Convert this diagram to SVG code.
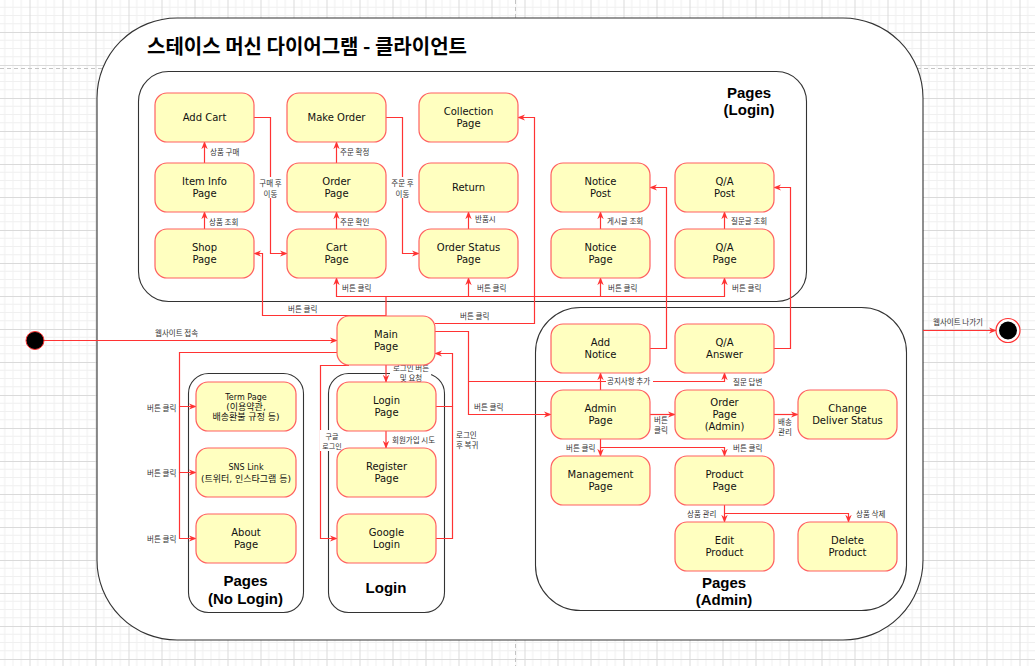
<svg xmlns="http://www.w3.org/2000/svg" width="1035" height="666" viewBox="0 0 1035 666">
<style>
.node rect{fill:#ffffc0;stroke:#ff6161;stroke-width:1.2}
.node text{font-family:"DejaVu Sans","Noto Sans CJK KR",sans-serif;font-size:10px;fill:#111;text-anchor:middle}
.node text.sm{font-size:8px}
.node text.kr{font-size:9px}
.cont{fill:none;stroke:#333;stroke-width:1.1}
.clbl{font-family:"Liberation Sans",Arial,sans-serif;font-weight:bold;font-size:15px;fill:#000;text-anchor:middle}
.edges path{fill:none;stroke:#ff3333;stroke-width:1.2}
.lbl{font-family:"Noto Sans CJK KR",sans-serif;font-size:7.5px;fill:#333}
.lbl.s7{font-size:7px}
.mid{text-anchor:middle}
.bg{fill:#fff}
</style>
<defs>
<pattern id="grid" patternUnits="userSpaceOnUse" x="29.5" y="32" width="33" height="33">
<rect width="33" height="33" fill="#fff"/>
<path d="M8.25,0V33M16.5,0V33M24.75,0V33M0,8.25H33M0,16.5H33M0,24.75H33" stroke="#f0f0f0" stroke-width="1"/>
<path d="M0.5,0V33M0,0.5H33" stroke="#dadada" stroke-width="1"/>
</pattern>
<marker id="arr" viewBox="0 0 10 10" refX="9" refY="5" markerWidth="8" markerHeight="8" markerUnits="userSpaceOnUse" orient="auto">
<path d="M0,1 L10,5 L0,9 L3,5 z" fill="#ff3333"/>
</marker>
</defs>
<rect width="1035" height="666" fill="url(#grid)"/>
<path d="M0,68.5H1035M515.5,0V666" stroke="#c4c4c4" stroke-width="1" stroke-dasharray="4,3"/>

<g id="containers">
<rect x="97" y="18" width="826" height="622" rx="80" fill="#fff" stroke="#333" stroke-width="1.1"/>
<text x="147" y="54" font-family="'Noto Sans CJK KR',sans-serif" font-weight="bold" font-size="20" fill="#000">스테이스 머신 다이어그램 - 클라이언트</text>
<rect class="cont" x="138.5" y="71.5" width="668" height="230" rx="30"/>
<text class="clbl" x="749" y="97.5">Pages</text>
<text class="clbl" x="749" y="114.5">(Login)</text>
<rect class="cont" x="188.5" y="373.5" width="115" height="239" rx="20"/>
<text class="clbl" x="245.5" y="586">Pages</text>
<text class="clbl" x="245.5" y="604">(No Login)</text>
<rect class="cont" x="328.5" y="373.5" width="116" height="239" rx="20"/>
<text class="clbl" x="386" y="593">Login</text>
<rect class="cont" x="535.5" y="307.5" width="371" height="303" rx="45"/>
<text class="clbl" x="724" y="588">Pages</text>
<text class="clbl" x="724" y="605">(Admin)</text>
</g>

<g id="edges" class="edges">
<path d="M204.5,229V212" marker-end="url(#arr)"/>
<path d="M204.5,163V142" marker-end="url(#arr)"/>
<path d="M254,117.5H270.5V253.5H287" marker-end="url(#arr)"/>
<path d="M336.5,229V212" marker-end="url(#arr)"/>
<path d="M336.5,163V142" marker-end="url(#arr)"/>
<path d="M386,117.5H402.5V253.5H419" marker-end="url(#arr)"/>
<path d="M468.5,229V212" marker-end="url(#arr)"/>
<path d="M600.5,229V212" marker-end="url(#arr)"/>
<path d="M724.5,229V212" marker-end="url(#arr)"/>
<path d="M386,316V296.5H336.5V278" marker-end="url(#arr)"/>
<path d="M386,296.5H468.5V278" marker-end="url(#arr)"/>
<path d="M468.5,296.5H600.5V278" marker-end="url(#arr)"/>
<path d="M600.5,296.5H724.5V278" marker-end="url(#arr)"/>
<path d="M386,315.5H262.5V253.5H254" marker-end="url(#arr)"/>
<path d="M435,323.5H534.5V117.5H518" marker-end="url(#arr)"/>
<path d="M650,348.5H666.5V187.5H650" marker-end="url(#arr)"/>
<path d="M774,348.5H790.5V187.5H774" marker-end="url(#arr)"/>
<path d="M435,331.5H468.5V414.5H551" marker-end="url(#arr)"/>
<path d="M600.5,390V373" marker-end="url(#arr)"/>
<path d="M468.5,381.5H724.5V373" marker-end="url(#arr)"/>
<path d="M650,414.5H675" marker-end="url(#arr)"/>
<path d="M774,414.5H798" marker-end="url(#arr)"/>
<path d="M600.5,439V456" marker-end="url(#arr)"/>
<path d="M600.5,447.5H724.5V456" marker-end="url(#arr)"/>
<path d="M724.5,505V522" marker-end="url(#arr)"/>
<path d="M724.5,513.5H848.5V522" marker-end="url(#arr)"/>
<path d="M386,365V382" marker-end="url(#arr)"/>
<path d="M386,431V448" marker-end="url(#arr)"/>
<path d="M349,365.5H320.5V538.5H337" marker-end="url(#arr)"/>
<path d="M436,406.5H452.5V353.5H435" marker-end="url(#arr)"/>
<path d="M436,538.5H452.5V406.5"/>
<path d="M337,352.5H179.5V406.5H196" marker-end="url(#arr)"/>
<path d="M179.5,406.5V472.5H196" marker-end="url(#arr)"/>
<path d="M179.5,472.5V538.5H196" marker-end="url(#arr)"/>
<path d="M44,340.5H337" marker-end="url(#arr)"/>
<path d="M923,330.5H996" marker-end="url(#arr)"/>
</g>

<g id="edge-labels">
<text class="lbl" x="210" y="155">상품 구매</text>
<text class="lbl" x="209" y="225">상품 조회</text>
<rect class="bg" x="257" y="177" width="27" height="21"/>
<text class="lbl mid" x="270.5" y="186">구매 후</text>
<text class="lbl mid" x="270.5" y="197">이동</text>
<text class="lbl" x="340" y="155">주문 확정</text>
<text class="lbl" x="340" y="225">주문 확인</text>
<rect class="bg" x="389" y="177" width="27" height="21"/>
<text class="lbl mid" x="402.5" y="186">주문 후</text>
<text class="lbl mid" x="402.5" y="197">이동</text>
<text class="lbl" x="475" y="222">반품시</text>
<text class="lbl" x="607" y="224">게시글 조회</text>
<text class="lbl" x="731" y="224">질문글 조회</text>
<text class="lbl" x="342" y="291">버튼 클릭</text>
<text class="lbl" x="477" y="291">버튼 클릭</text>
<text class="lbl" x="608" y="291">버튼 클릭</text>
<text class="lbl" x="732" y="291">버튼 클릭</text>
<text class="lbl" x="288" y="312">버튼 클릭</text>
<text class="lbl" x="460" y="319">버튼 클릭</text>
<text class="lbl" x="155" y="336">웹사이트 접속</text>
<text class="lbl" x="933" y="325">웹사이트 나가기</text>
<text class="lbl" x="474" y="409.5">버튼 클릭</text>
<rect class="bg" x="606" y="377" width="47" height="9"/>
<text class="lbl" x="607" y="384">공지사항 추가</text>
<text class="lbl" x="733" y="385">질문 답변</text>
<text class="lbl mid" x="661" y="423">버튼</text>
<text class="lbl mid" x="661" y="433">클릭</text>
<text class="lbl mid" x="785" y="424.5">배송</text>
<text class="lbl mid" x="785" y="434.5">관리</text>
<text class="lbl" x="566" y="450.5">버튼 클릭</text>
<text class="lbl" x="733" y="450.5">버튼 클릭</text>
<text class="lbl" x="687" y="517">상품 관리</text>
<text class="lbl" x="856" y="517">상품 삭제</text>
<rect class="bg" x="390" y="364" width="41" height="18"/>
<text class="lbl mid" x="411" y="371">로그인 버튼</text>
<text class="lbl mid" x="411" y="381">및 요청</text>
<text class="lbl" x="392" y="443">회원가입 시도</text>
<rect class="bg" x="320" y="430" width="24" height="21"/>
<text class="lbl s7 mid" x="332" y="439">구글</text>
<text class="lbl s7 mid" x="332" y="449">로그인</text>
<text class="lbl" x="456" y="438">로그인</text>
<text class="lbl" x="456" y="447.5">후 복귀</text>
<text class="lbl" x="147" y="411">버튼 클릭</text>
<text class="lbl" x="147" y="476">버튼 클릭</text>
<text class="lbl" x="147" y="542">버튼 클릭</text>
</g>

<g id="start"><circle cx="35" cy="340.5" r="9" fill="#000" stroke="#ff3333" stroke-width="1"/></g>
<g id="end"><circle cx="1008" cy="330.5" r="12" fill="#fff" stroke="#ff3333" stroke-width="1.2"/><circle cx="1008" cy="330.5" r="9" fill="#000"/></g>

<g id="n-addcart" class="node"><rect x="155" y="93" width="99" height="49" rx="12"/><text x="204.5" y="121">Add Cart</text></g>
<g id="n-makeorder" class="node"><rect x="287" y="93" width="99" height="49" rx="12"/><text x="336.5" y="121">Make Order</text></g>
<g id="n-collection" class="node"><rect x="419" y="93" width="99" height="49" rx="12"/><text x="468.5" y="115">Collection</text><text x="468.5" y="127">Page</text></g>
<g id="n-iteminfo" class="node"><rect x="155" y="163" width="99" height="49" rx="12"/><text x="204.5" y="185">Item Info</text><text x="204.5" y="197">Page</text></g>
<g id="n-order" class="node"><rect x="287" y="163" width="99" height="49" rx="12"/><text x="336.5" y="185">Order</text><text x="336.5" y="197">Page</text></g>
<g id="n-return" class="node"><rect x="419" y="163" width="99" height="49" rx="12"/><text x="468.5" y="191">Return</text></g>
<g id="n-noticepost" class="node"><rect x="551" y="163" width="99" height="49" rx="12"/><text x="600.5" y="185">Notice</text><text x="600.5" y="197">Post</text></g>
<g id="n-qapost" class="node"><rect x="675" y="163" width="99" height="49" rx="12"/><text x="724.5" y="185">Q/A</text><text x="724.5" y="197">Post</text></g>
<g id="n-shop" class="node"><rect x="155" y="229" width="99" height="49" rx="12"/><text x="204.5" y="251">Shop</text><text x="204.5" y="263">Page</text></g>
<g id="n-cart" class="node"><rect x="287" y="229" width="99" height="49" rx="12"/><text x="336.5" y="251">Cart</text><text x="336.5" y="263">Page</text></g>
<g id="n-orderstatus" class="node"><rect x="419" y="229" width="99" height="49" rx="12"/><text x="468.5" y="251">Order Status</text><text x="468.5" y="263">Page</text></g>
<g id="n-notice" class="node"><rect x="551" y="229" width="99" height="49" rx="12"/><text x="600.5" y="251">Notice</text><text x="600.5" y="263">Page</text></g>
<g id="n-qa" class="node"><rect x="675" y="229" width="99" height="49" rx="12"/><text x="724.5" y="251">Q/A</text><text x="724.5" y="263">Page</text></g>
<g id="n-main" class="node"><rect x="337" y="316" width="98" height="49" rx="12"/><text x="386" y="338">Main</text><text x="386" y="350">Page</text></g>
<g id="n-term" class="node"><rect x="196" y="382" width="100" height="49" rx="12"/><text class="sm" x="246" y="400">Term Page</text><text class="kr" x="246" y="410">(이용약관,</text><text class="kr" x="246" y="420">배송환불 규정 등)</text></g>
<g id="n-sns" class="node"><rect x="196" y="448" width="100" height="49" rx="12"/><text class="sm" x="246" y="470">SNS Link</text><text class="kr" x="246" y="482">(트위터, 인스타그램 등)</text></g>
<g id="n-about" class="node"><rect x="196" y="514" width="100" height="49" rx="12"/><text x="246" y="536">About</text><text x="246" y="548">Page</text></g>
<g id="n-login" class="node"><rect x="337" y="382" width="99" height="49" rx="12"/><text x="386.5" y="404">Login</text><text x="386.5" y="416">Page</text></g>
<g id="n-register" class="node"><rect x="337" y="448" width="99" height="49" rx="12"/><text x="386.5" y="470">Register</text><text x="386.5" y="482">Page</text></g>
<g id="n-google" class="node"><rect x="337" y="514" width="99" height="49" rx="12"/><text x="386.5" y="536">Google</text><text x="386.5" y="548">Login</text></g>
<g id="n-addnotice" class="node"><rect x="551" y="324" width="99" height="49" rx="12"/><text x="600.5" y="346">Add</text><text x="600.5" y="358">Notice</text></g>
<g id="n-qaanswer" class="node"><rect x="675" y="324" width="99" height="49" rx="12"/><text x="724.5" y="346">Q/A</text><text x="724.5" y="358">Answer</text></g>
<g id="n-admin" class="node"><rect x="551" y="390" width="99" height="49" rx="12"/><text x="600.5" y="412">Admin</text><text x="600.5" y="424">Page</text></g>
<g id="n-orderadmin" class="node"><rect x="675" y="390" width="99" height="49" rx="12"/><text x="724.5" y="406">Order</text><text x="724.5" y="418">Page</text><text x="724.5" y="430">(Admin)</text></g>
<g id="n-change" class="node"><rect x="798" y="390" width="99" height="49" rx="12"/><text x="847.5" y="412">Change</text><text x="847.5" y="424">Deliver Status</text></g>
<g id="n-management" class="node"><rect x="551" y="456" width="99" height="49" rx="12"/><text x="600.5" y="478">Management</text><text x="600.5" y="490">Page</text></g>
<g id="n-product" class="node"><rect x="675" y="456" width="99" height="49" rx="12"/><text x="724.5" y="478">Product</text><text x="724.5" y="490">Page</text></g>
<g id="n-edit" class="node"><rect x="675" y="522" width="99" height="49" rx="12"/><text x="724.5" y="544">Edit</text><text x="724.5" y="556">Product</text></g>
<g id="n-delete" class="node"><rect x="798" y="522" width="99" height="49" rx="12"/><text x="847.5" y="544">Delete</text><text x="847.5" y="556">Product</text></g>
</svg>
